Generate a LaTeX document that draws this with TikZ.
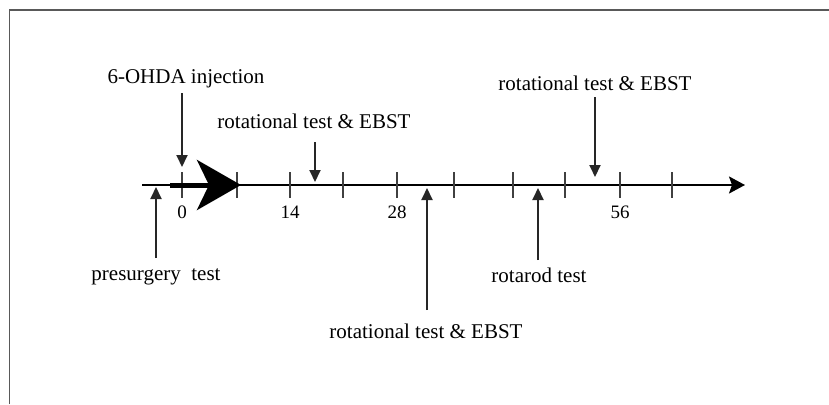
\documentclass[tikz,border=0pt]{standalone}
\usepackage{fontspec}
\setmainfont{Liberation Serif}
\usetikzlibrary{arrows.meta}

\begin{document}
\begin{tikzpicture}[x=1pt,y=-1pt,>={Triangle[length=12pt,width=11pt]},line cap=butt,
    lbl/.style={anchor=base,inner sep=0pt,text=black,font=\fontsize{21}{24}\selectfont},
    num/.style={anchor=base,inner sep=0pt,text=black,font=\fontsize{19}{22}\selectfont},
    evt/.style={->,line width=2pt,draw=black!85},
    tck/.style={line width=2pt,draw=black!75}]
    \useasboundingbox (0,0) rectangle (829,404);
    % frame
    \draw[line width=1.6pt,black!65] (9.5,404) -- (9.5,10) -- (829,10);

    % time axis
    \coordinate (start) at (142,185);
    \coordinate (end) at (745,185);
    \draw[line width=2pt,-{Stealth[length=16pt,width=17pt,inset=3pt]}] (start) -- (end);
    \foreach \x [count=\i] in {182,237,290,343,397,454,513,565,620,672}{
        \coordinate (t\i) at (\x,185);
        \draw[tck] (\x,172) -- (\x,198);
    }
    \node[num] (d0) at (t1 |- 0,218) {0};
    \node[num] (d14) at (t3 |- 0,218) {14};
    \node[num] (d28) at (t5 |- 0,218) {28};
    \node[num] (d56) at (t9 |- 0,218) {56};

    % big arrow after injection
    \coordinate (bigs) at (170,185);
    \coordinate (bige) at (241,185);
    \draw[line width=5pt,-{Stealth[length=44pt,width=50pt,inset=12pt]}] (bigs) -- (bige);

    % labels
    \node[lbl] (inj) at (186,83) {6-OHDA injection};
    \node[lbl] (rotA) at (314,128) {rotational test \& EBST};
    \node[lbl] (rotC) at (595,90) {rotational test \& EBST};
    \node[lbl] (pre) at (156,280) {presurgery\ \ test};
    \node[lbl] (rotB) at (426,338) {rotational test \& EBST};
    \node[lbl] (rota) at (539,282) {rotarod test};

    % event arrows
    \coordinate (injtip) at (182,167);
    \coordinate (rotAtip) at (315,182);
    \coordinate (rotCtip) at (595,177);
    \coordinate (pretip) at (156,187);
    \coordinate (rotBtip) at (427,188);
    \coordinate (rotatip) at (538,188);
    \draw[evt] (injtip |- 0,93) -- (injtip);
    \draw[evt] (rotAtip |- 0,142) -- (rotAtip);
    \draw[evt] (rotCtip |- 0,97) -- (rotCtip);
    \draw[evt] (pretip |- 0,258) -- (pretip);
    \draw[evt] (rotBtip |- 0,310) -- (rotBtip);
    \draw[evt] (rotatip |- 0,260) -- (rotatip);
\end{tikzpicture}
\end{document}
